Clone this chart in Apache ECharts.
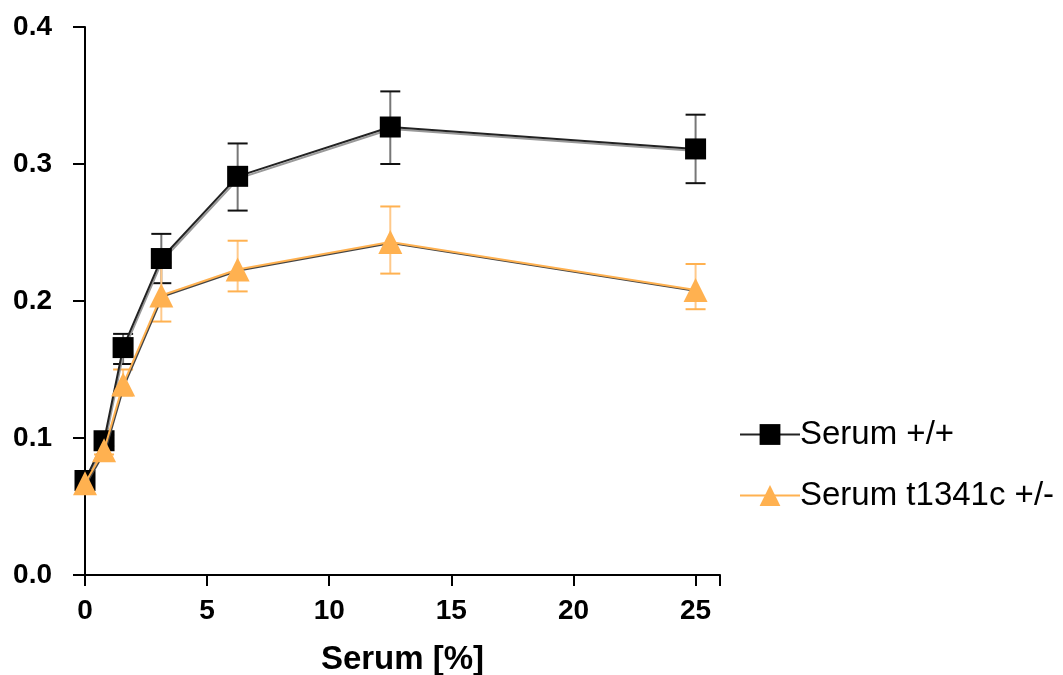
<!DOCTYPE html>
<html lang="en">
<head>
<meta charset="UTF-8">
<title>Serum</title>
<script src="https://cdn.jsdelivr.net/npm/echarts@6/dist/echarts.min.js"></script>
</head>
<body style="margin:0;background:#fff;">
<div id="chart" style="width:1063px;height:675px;"></div>
<script>
// serum dilution series
var serumPct = [0, 0.78, 1.56, 3.125, 6.25, 12.5, 25];

var wtMean = [0.069, 0.098, 0.166, 0.231, 0.291, 0.327, 0.311];
var wtLow  = [0.065, 0.094, 0.154, 0.213, 0.266, 0.300, 0.286];
var wtHigh = [0.073, 0.102, 0.176, 0.249, 0.315, 0.353, 0.336];

var mutMean = [0.067, 0.091, 0.139, 0.204, 0.223, 0.243, 0.208];
var mutLow  = [0.064, 0.088, 0.131, 0.185, 0.207, 0.220, 0.194];
var mutHigh = [0.070, 0.094, 0.150, 0.228, 0.244, 0.269, 0.227];

var wtName = 'Serum +/+';
var mutName = 'Serum t1341c +/-';
var orange = '#ffb150';

function pairs(ys) {
    return serumPct.map(function (x, i) { return [x, ys[i]]; });
}
function errData(lo, hi) {
    return serumPct.map(function (x, i) { return [x, lo[i], hi[i]]; });
}
function errSeries(lo, hi, capColor, stemColor) {
    return {
        type: 'custom',
        data: errData(lo, hi),
        z: 1,
        silent: true,
        renderItem: function (params, api) {
            var x = api.value(0);
            var a = api.coord([x, api.value(1)]);
            var b = api.coord([x, api.value(2)]);
            var w = 10;
            return {
                type: 'group',
                children: [
                    { type: 'line', shape: { x1: a[0], y1: a[1], x2: b[0], y2: b[1] },
                      style: { stroke: stemColor, lineWidth: 2 } },
                    { type: 'line', shape: { x1: a[0] - w, y1: a[1], x2: a[0] + w, y2: a[1] },
                      style: { stroke: capColor, lineWidth: 2 } },
                    { type: 'line', shape: { x1: b[0] - w, y1: b[1], x2: b[0] + w, y2: b[1] },
                      style: { stroke: capColor, lineWidth: 2 } }
                ]
            };
        }
    };
}

var option = {
    animation: false,
    backgroundColor: '#fff',
    grid: { left: 85, top: 27, right: 343, bottom: 100, outerBoundsMode: 'none' },
    legend: {
        orient: 'vertical',
        left: 734,
        top: 413,
        itemGap: 28,
        itemWidth: 60,
        itemHeight: 26,
        textStyle: { fontFamily: 'Liberation Sans', fontSize: 33, color: '#000', padding: [0, 0, 0, -5] },
        data: [wtName, mutName]
    },
    xAxis: {
        type: 'value',
        min: 0,
        max: 26,
        interval: 5,
        name: 'Serum [%]',
        nameLocation: 'middle',
        nameGap: 68,
        nameTextStyle: { fontFamily: 'Liberation Sans', fontWeight: 'bold', fontSize: 33, color: '#000' },
        axisLine: { onZero: false, lineStyle: { color: '#000', width: 2 } },
        axisTick: { length: 11, lineStyle: { color: '#000', width: 2 } },
        axisLabel: {
            fontFamily: 'Liberation Sans', fontWeight: 'bold', fontSize: 28, color: '#000', margin: 22,
            formatter: function (v) { return v % 5 === 0 ? String(v) : ''; }
        },
        splitLine: { show: false }
    },
    yAxis: {
        type: 'value',
        min: 0,
        max: 0.4,
        interval: 0.1,
        axisLine: { show: true, lineStyle: { color: '#000', width: 2 } },
        axisTick: { show: true, length: 12, lineStyle: { color: '#000', width: 2 } },
        axisLabel: {
            fontFamily: 'Liberation Sans', fontWeight: 'bold', fontSize: 28, color: '#000', margin: 33,
            formatter: function (v) { return v.toFixed(1); }
        },
        splitLine: { show: false }
    },
    series: [
        errSeries(wtLow, wtHigh, '#111', '#777'),
        errSeries(mutLow, mutHigh, orange, '#ffc98a'),
        {
            name: wtName,
            type: 'line',
            data: pairs(wtMean),
            z: 3,
            symbol: 'rect',
            symbolSize: 21,
            itemStyle: { color: '#000' },
            lineStyle: { color: '#222', width: 2, shadowColor: '#999', shadowOffsetX: 1, shadowOffsetY: 2 }
        },
        {
            name: mutName,
            type: 'line',
            data: pairs(mutMean),
            z: 4,
            symbol: 'triangle',
            symbolSize: 24,
            itemStyle: { color: orange },
            lineStyle: { color: orange, width: 2, shadowColor: '#444', shadowOffsetX: 1, shadowOffsetY: 1 }
        }
    ]
};

var myChart = echarts.init(document.getElementById('chart'));
myChart.setOption(option);
</script>
</body>
</html>
